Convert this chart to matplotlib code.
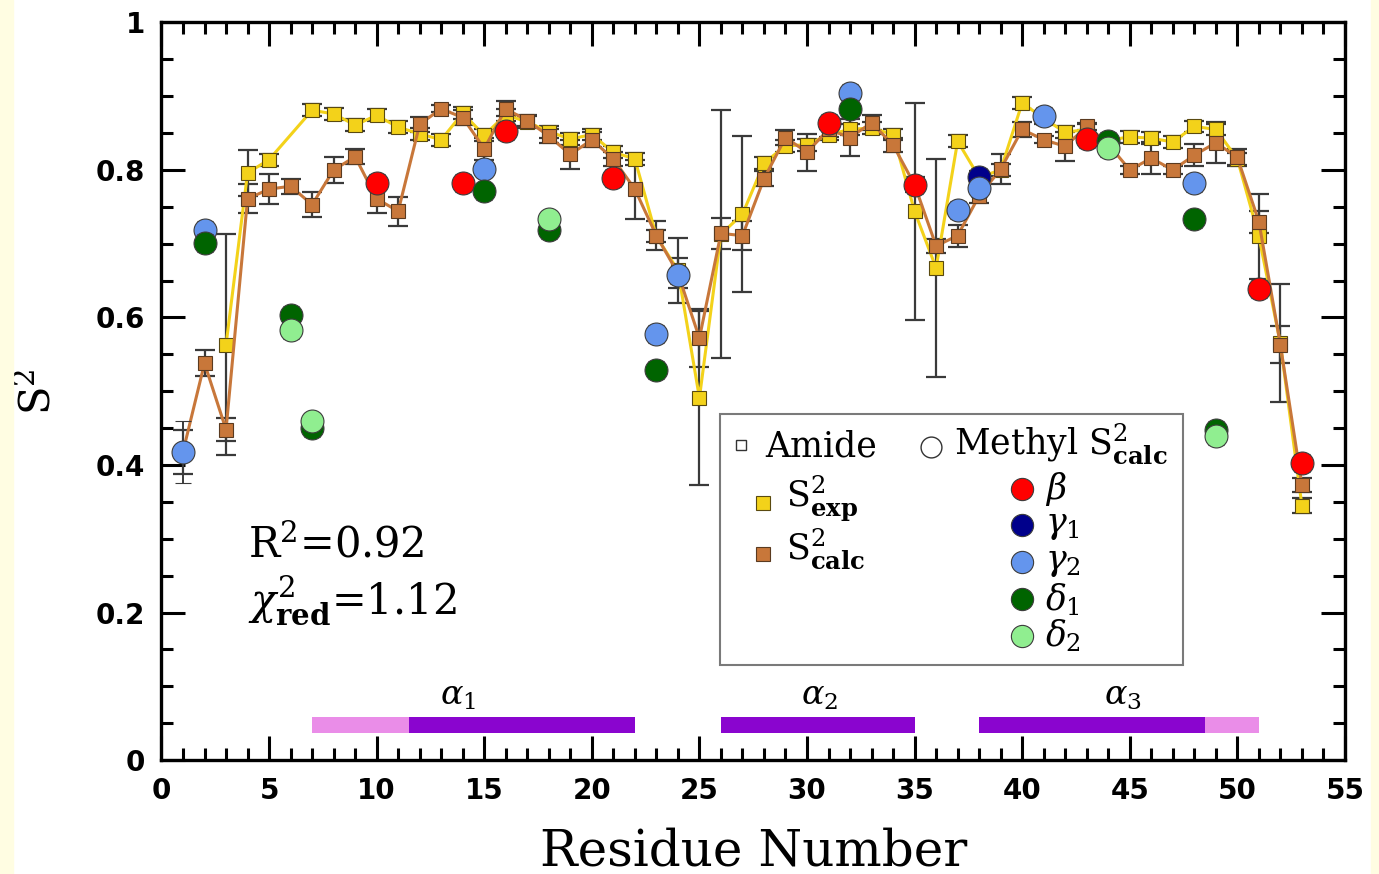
import numpy as np
import matplotlib
matplotlib.use('Agg')
import matplotlib.pyplot as plt
from matplotlib.patches import Rectangle

plt.rcParams['mathtext.fontset'] = 'dejavuserif'

# amide S2, residues 1..53 (nan = no point)
residues = np.arange(1, 54)
s2_exp = [np.nan, np.nan, 0.563, 0.796, 0.814, np.nan, 0.881, 0.876, 0.861, 0.874,
          0.858, 0.849, 0.841, 0.877, 0.847, 0.875, 0.865, 0.852, 0.842, 0.848,
          0.824, 0.815, 0.71, 0.664, 0.491, 0.713, 0.740, 0.809, 0.833, 0.834,
          0.848, 0.855, 0.857, 0.848, 0.744, 0.667, 0.839, 0.79, 0.80, 0.891,
          0.87, 0.851, 0.855, 0.84, 0.845, 0.843, 0.838, 0.859, 0.855, 0.815,
          0.71, 0.565, 0.345]
s2_exp_err = [0.0, 0.0, 0.15, 0.031, 0.008, 0.0, 0.008, 0.008, 0.008, 0.008,
              0.008, 0.008, 0.008, 0.008, 0.008, 0.008, 0.008, 0.008, 0.008, 0.008,
              0.008, 0.008, 0.008, 0.044, 0.118, 0.168, 0.106, 0.008, 0.008, 0.008,
              0.008, 0.008, 0.008, 0.008, 0.147, 0.148, 0.008, 0.008, 0.008, 0.008,
              0.008, 0.008, 0.008, 0.008, 0.008, 0.008, 0.008, 0.008, 0.008, 0.008,
              0.058, 0.08, 0.01]
s2_calc = [0.418, 0.538, 0.448, 0.761, 0.774, 0.778, 0.753, 0.800, 0.818, 0.761,
           0.744, 0.862, 0.883, 0.871, 0.829, 0.883, 0.867, 0.846, 0.821, 0.841,
           0.815, 0.774, 0.711, 0.66, 0.572, 0.714, 0.711, 0.788, 0.844, 0.824,
           0.855, 0.844, 0.864, 0.834, 0.78, 0.697, 0.711, 0.765, 0.801, 0.855,
           0.841, 0.832, 0.859, 0.835, 0.800, 0.816, 0.800, 0.820, 0.837, 0.817,
           0.730, 0.563, 0.373]
s2_calc_err = [0.03, 0.018, 0.016, 0.02, 0.02, 0.01, 0.017, 0.017, 0.01, 0.02,
               0.02, 0.01, 0.005, 0.01, 0.015, 0.01, 0.008, 0.01, 0.02, 0.01,
               0.01, 0.04, 0.02, 0.02, 0.039, 0.021, 0.02, 0.01, 0.01, 0.025,
               0.01, 0.025, 0.01, 0.01, 0.01, 0.01, 0.015, 0.01, 0.02, 0.01,
               0.005, 0.02, 0.005, 0.01, 0.005, 0.022, 0.005, 0.015, 0.028, 0.012,
               0.015, 0.025, 0.01]

# methyl S2 calc
beta_res = [10, 14, 16, 21, 31, 35, 43, 51, 53]
beta_val = [0.783, 0.782, 0.853, 0.789, 0.864, 0.779, 0.842, 0.639, 0.403]
gamma1_res = [38]
gamma1_val = [0.791]
gamma2_res = [1, 2, 15, 23, 24, 32, 37, 38, 41, 48]
gamma2_val = [0.418, 0.719, 0.802, 0.578, 0.657, 0.904, 0.746, 0.776, 0.873, 0.782]
gamma2_err = [0.042, 0.012, 0.012, 0.012, 0.012, 0.012, 0.012, 0.012, 0.012, 0.012]
delta1_res = [2, 6, 7, 15, 18, 23, 32, 44, 48, 49]
delta1_val = [0.701, 0.604, 0.45, 0.771, 0.719, 0.529, 0.883, 0.839, 0.733, 0.447]
delta2_res = [6, 7, 18, 44, 49]
delta2_val = [0.583, 0.459, 0.733, 0.830, 0.439]

# helices
helix_start = [7, 11.5, 26, 38, 48.5]
helix_end = [11.5, 22, 35, 48.5, 51]
helix_kind = ['light', 'dark', 'dark', 'dark', 'light']
helix_names = [r'$\alpha_1$', r'$\alpha_2$', r'$\alpha_3$']
helix_label_x = [13.8, 30.6, 44.7]

c_exp = '#f3d21a'
c_calc = '#c8773a'
c_err = '#3a3a3a'

fig = plt.figure(figsize=(13.79, 8.74), dpi=100)
fig.patch.set_facecolor('white')
# pale yellow page strips at the edges
fig.patches.append(Rectangle((0, 0), 0.0095, 1, transform=fig.transFigure, color='#fffde2', zorder=0))
fig.patches.append(Rectangle((0.9945, 0), 0.0055, 1, transform=fig.transFigure, color='#fffde2', zorder=0))

ax = fig.add_axes([0.1171, 0.1304, 0.8582, 0.8439])

exp = np.array(s2_exp)
calc = np.array(s2_calc)
ok = ~np.isnan(exp)

ax.errorbar(residues[ok], exp[ok], yerr=np.array(s2_exp_err)[ok], fmt='none',
            ecolor=c_err, elinewidth=1.6, capsize=7, capthick=1.6, zorder=2)
ax.errorbar(residues, calc, yerr=s2_calc_err, fmt='none',
            ecolor=c_err, elinewidth=1.6, capsize=7, capthick=1.6, zorder=2)
ax.plot(residues[ok], exp[ok], '-', color=c_exp, lw=2.2, zorder=3)
ax.plot(residues[ok], exp[ok], 's', ms=9.5, mfc=c_exp, mec='#5a4a10', mew=0.8, zorder=4)
ax.plot(residues, calc, '-', color=c_calc, lw=2.2, zorder=5)
ax.plot(residues, calc, 's', ms=9.5, mfc=c_calc, mec='#5a3a20', mew=0.8, zorder=6)

methyl = [(beta_res, beta_val, '#ff0000'),
          (gamma1_res, gamma1_val, '#00008b'),
          (gamma2_res, gamma2_val, '#6495ed'),
          (delta1_res, delta1_val, '#006400'),
          (delta2_res, delta2_val, '#90ee90')]
for i, (r, v, c) in enumerate(methyl):
    err = gamma2_err if c == '#6495ed' else 0.012
    ax.errorbar(r, v, yerr=err, fmt='o', ms=16.5, mfc=c, mec='#3c3c3c', mew=0.8,
                ecolor=c_err, elinewidth=1.4, capsize=6, capthick=1.4, zorder=7 + i)

# helix bars
for s, e, k in zip(helix_start, helix_end, helix_kind):
    ax.barh(0.0475, e - s, left=s, height=0.022,
            color='#ea8de8' if k == 'light' else '#8a05cf', zorder=2)
for name, x in zip(helix_names, helix_label_x):
    ax.text(x, 0.088, name, fontsize=24, ha='center', va='center')

ax.text(4, 0.275, r'R$^2$=0.92', fontsize=30, family='DejaVu Serif', va='baseline')
ax.text(4, 0.197, r'$\chi^2_{\mathbf{red}}$=1.12', fontsize=30, family='DejaVu Serif', va='baseline')

# legend box
ta = ax.transAxes
ax.add_patch(Rectangle((0.472, 0.129), 0.391, 0.340, transform=ta, fill=False,
                       ec='#7a7a7a', lw=1.5, zorder=20))
ax.plot([0.490], [0.427], 's', ms=7, mfc='white', mec='#333333', mew=1, transform=ta, zorder=21)
ax.text(0.510, 0.411, 'Amide', fontsize=25, family='DejaVu Serif', transform=ta, va='baseline')
ax.plot([0.650], [0.425], 'o', ms=15, mfc='white', mec='#333333', mew=1, transform=ta, zorder=21)
ax.text(0.670, 0.4136, r'Methyl S$^2_{\mathbf{calc}}$', fontsize=25, family='DejaVu Serif',
        transform=ta, va='baseline')
ax.plot([0.508], [0.348], 's', ms=10, mfc=c_exp, mec='#5a4a10', mew=0.8, transform=ta, zorder=21)
ax.text(0.528, 0.342, r'S$^2_{\mathbf{exp}}$', fontsize=25, family='DejaVu Serif', transform=ta, va='baseline')
ax.plot([0.508], [0.279], 's', ms=10, mfc=c_calc, mec='#5a3a20', mew=0.8, transform=ta, zorder=21)
ax.text(0.528, 0.2725, r'S$^2_{\mathbf{calc}}$', fontsize=25, family='DejaVu Serif', transform=ta, va='baseline')
leg_labels = [r'$\beta$', r'$\gamma_1$', r'$\gamma_2$', r'$\delta_1$', r'$\delta_2$']
leg_y = [0.368, 0.319, 0.268, 0.218, 0.168]
for (r, v, c), lab, y in zip(methyl, leg_labels, leg_y):
    ax.plot([0.727], [y], 'o', ms=16, mfc=c, mec='#3c3c3c', mew=0.8, transform=ta, zorder=21)
    ax.text(0.7465, y, lab, fontsize=25, transform=ta, va='center')

ax.set_xlim(0, 55)
ax.set_ylim(0, 1)
ax.set_xticks(np.arange(0, 56, 5))
ax.set_xticks(np.arange(0, 56, 1), minor=True)
ax.set_yticks([0, 0.2, 0.4, 0.6, 0.8, 1.0])
ax.set_yticklabels(['0', '0.2', '0.4', '0.6', '0.8', '1'])
ax.set_yticks(np.arange(0, 1.001, 0.05), minor=True)
ax.tick_params(which='both', direction='in', top=True, right=True, width=2.2)
ax.tick_params(which='major', length=17, labelsize=20, pad=12)
ax.tick_params(which='minor', length=8.5)
for lab in ax.get_xticklabels() + ax.get_yticklabels():
    lab.set_fontweight('bold')
for sp in ax.spines.values():
    sp.set_linewidth(2.4)

ax.set_xlabel('Residue Number', fontsize=36, family='DejaVu Serif', labelpad=16)
ax.set_ylabel(r'S$^2$', fontsize=30, family='DejaVu Serif', labelpad=26)

fig.savefig('out.png', dpi=100)
